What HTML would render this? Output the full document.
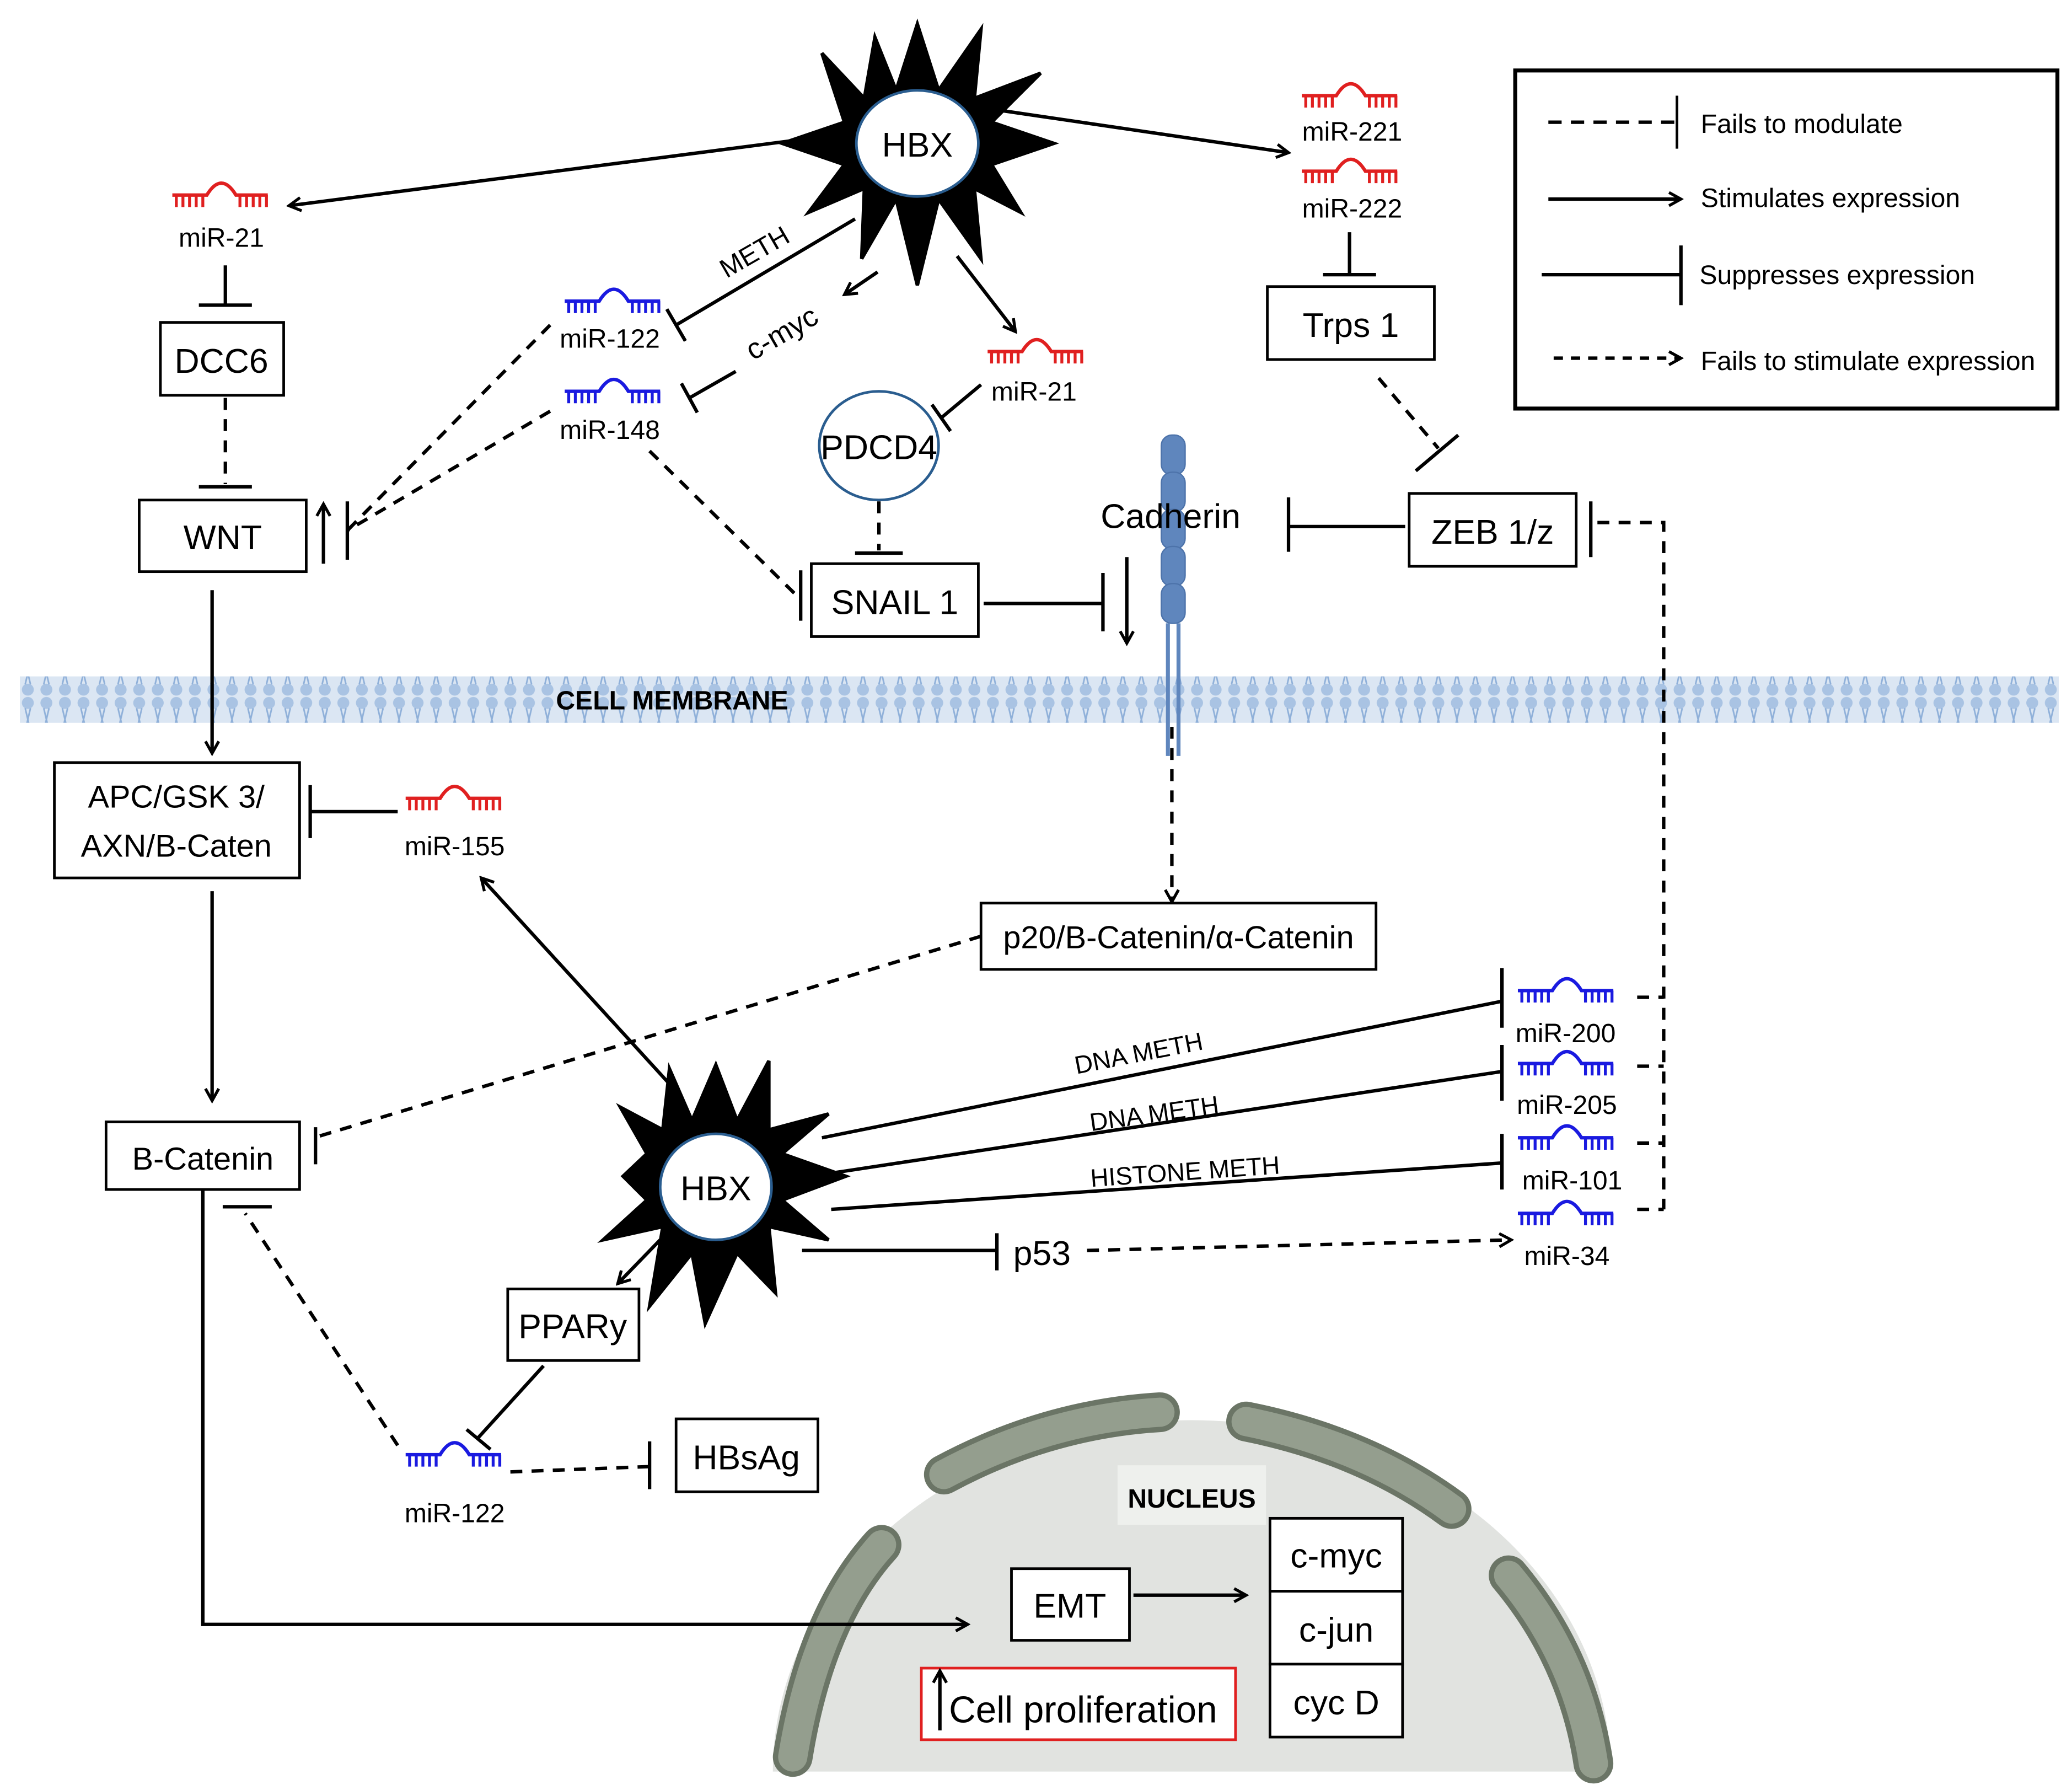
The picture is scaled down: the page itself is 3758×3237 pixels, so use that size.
<!DOCTYPE html>
<html><head><meta charset="utf-8"><style>html,body{margin:0;padding:0;background:#fff}svg{display:block}text{font-family:"Liberation Sans",sans-serif}</style></head>
<body>
<svg width="3758" height="3237" viewBox="0 0 1563 1346" xmlns="http://www.w3.org/2000/svg">
<defs>
<marker id="ar" markerWidth="12" markerHeight="12" refX="10" refY="6" orient="auto" markerUnits="userSpaceOnUse"><path d="M1,1 L10,6 L1,11" fill="none" stroke="#000" stroke-width="2.2"/></marker>
<pattern id="mem" width="14" height="35" patternUnits="userSpaceOnUse"><rect width="14" height="35" fill="#dbe6f3"/><circle cx="7" cy="5" r="4.5" fill="#a9c3e3"/><circle cx="7" cy="30" r="4.5" fill="#a9c3e3"/><path d="M5,9 L9,26 M9,9 L5,26" stroke="#8fb0d9" stroke-width="1.2"/></pattern>
<symbol id="mir" viewBox="0 0 72 24" overflow="visible"><path d="M0,12 H26 Q37,-6 48,12 H72" fill="none" stroke-width="2.6"/><path d="M3,12v9M8,12v9M13,12v9M18,12v9M23,12v9M51,12v9M56,12v9M61,12v9M66,12v9M71,12v9" stroke-width="2.2"/></symbol>
</defs>
<g fill="none" stroke="#000" stroke-width="2.6">
<!-- nucleus -->
<path d="M583,1336 A316,265 0 0 1 1215,1336 Z" fill="#e1e3e0" stroke="none"/>
<g stroke-linecap="round">
<g stroke="#6b7566" stroke-width="30"><path d="M598,1325 Q615,1220 665,1165"/><path d="M712,1112 Q790,1070 875,1065"/><path d="M940,1072 Q1030,1090 1095,1138"/><path d="M1138,1188 Q1190,1250 1202,1330"/></g>
<g stroke="#949e8e" stroke-width="22"><path d="M598,1325 Q615,1220 665,1165"/><path d="M712,1112 Q790,1070 875,1065"/><path d="M940,1072 Q1030,1090 1095,1138"/><path d="M1138,1188 Q1190,1250 1202,1330"/></g>
</g>
<rect x="843" y="1105" width="112" height="45" fill="#eef0ed" stroke="none"/>
<!-- membrane -->
<rect x="15" y="510" width="1538" height="35" fill="url(#mem)" stroke="none"/>
<!-- cadherin -->
<g fill="#5f86bd" stroke="#4d73aa" stroke-width="1"><rect x="876" y="328" width="18" height="30" rx="8"/><rect x="876" y="356" width="18" height="30" rx="8"/><rect x="876" y="384" width="18" height="30" rx="8"/><rect x="876" y="412" width="18" height="30" rx="8"/><rect x="876" y="440" width="18" height="30" rx="8"/></g>
<path d="M881,470 V570 M889,470 V570" stroke="#5f86bd" stroke-width="3"/>
<!-- stars -->
<polygon fill="#000" points="692,18 708,68 740,22 735,74 785,55 748,92 795,108 748,124 770,160 735,142 740,195 708,150 692,215 676,150 650,195 652,142 610,160 637,124 590,108 637,92 620,40 652,74 660,28 676,68" />
<ellipse cx="692" cy="108" rx="46" ry="40" fill="#fff" stroke="#2a5d8f" stroke-width="2"/>
<polygon fill="#000" points="540,803 556,845 580,800 580,852 625,840 590,870 638,887 590,905 625,935 580,925 585,975 556,945 532,998 522,945 490,985 500,925 455,935 488,905 470,887 488,870 468,835 500,852 505,806 522,845"/>
<ellipse cx="540" cy="895" rx="42" ry="40" fill="#fff" stroke="#2a5d8f" stroke-width="2"/>
<!-- miRNA icons -->
<g stroke="#e02020"><use href="#mir" x="130" y="135" width="72" height="24"/><use href="#mir" x="745" y="253" width="72" height="24"/><use href="#mir" x="982" y="60" width="72" height="24"/><use href="#mir" x="982" y="117" width="72" height="24"/><use href="#mir" x="306" y="590" width="72" height="24"/></g>
<g stroke="#1a1ae0"><use href="#mir" x="426" y="215" width="72" height="24"/><use href="#mir" x="426" y="283" width="72" height="24"/><use href="#mir" x="1145" y="735" width="72" height="24"/><use href="#mir" x="1145" y="790" width="72" height="24"/><use href="#mir" x="1145" y="846" width="72" height="24"/><use href="#mir" x="1145" y="903" width="72" height="24"/><use href="#mir" x="306" y="1085" width="72" height="24"/></g>
<!-- boxes -->
<g fill="#fff" stroke-width="2">
<rect x="121" y="243" width="93" height="55"/><rect x="105" y="377" width="126" height="54"/><rect x="612" y="425" width="126" height="55"/><rect x="956" y="216" width="126" height="55"/><rect x="1063" y="372" width="126" height="55"/><rect x="41" y="575" width="185" height="87"/><rect x="80" y="846" width="146" height="51"/><rect x="740" y="681" width="298" height="50"/><rect x="383" y="972" width="99" height="54"/><rect x="510" y="1070" width="107" height="55"/><rect x="763" y="1183" width="89" height="54"/><rect x="958" y="1145" width="100" height="55"/><rect x="958" y="1200" width="100" height="55"/><rect x="958" y="1255" width="100" height="55"/>
<rect x="695" y="1258" width="237" height="54" stroke="#e02020"/>
<ellipse cx="663" cy="336" rx="45" ry="41" stroke="#2a5d8f"/>
</g>
<rect x="1143" y="53" width="409" height="255" stroke-width="3"/>
<!-- solid arrows -->
<g marker-end="url(#ar)">
<path d="M605,105 L218,155"/><path d="M747,82 L972,115"/><path d="M662,205 L637,222"/><path d="M722,193 L766,250"/>
<path d="M160,445 V568"/><path d="M160,672 V830"/><path d="M512,825 L363,662"/><path d="M498,935 L466,968"/>
<path d="M153,897 V1225 H730"/><path d="M855,1203 H940"/><path d="M244,425 V380"/><path d="M850,420 V485"/><path d="M709,1305 V1260"/>
<path d="M1168,150 H1268"/>
</g>
<g stroke-dasharray="9,7" marker-end="url(#ar)"><path d="M884,548 V680"/><path d="M820,943 L1140,935"/><path d="M1172,270 H1268" stroke-dasharray="7,6"/></g>
<!-- solid inhibitions -->
<path d="M170,200 V230 M150,230 H190"/><path d="M645,165 L510,245 M503,233 L517,257"/><path d="M555,280 L520,300 M514,289 L526,311"/><path d="M740,290 L710,315 M703,305 L717,325"/>
<path d="M742,455 H832 M832,432 V476"/><path d="M1018,175 V207 M998,207 H1038"/><path d="M1060,397 H972 M972,375 V416"/>
<path d="M234,612 H300 M234,592 V632"/><path d="M620,858 L1133,755 M1133,730 V775"/><path d="M625,885 L1133,808 M1133,788 V830"/><path d="M627,912 L1133,877 M1133,855 V897"/>
<path d="M605,943 H752 M752,930 V958"/><path d="M410,1030 L360,1085 M352,1078 L370,1093"/><path d="M262,378 V422"/>
<path d="M1163,207 H1268 M1268,185 V230"/><path d="M1265,72 V112" stroke-width="2"/>
<path d="M150,367 H190"/><path d="M645,417 H681"/>
<!-- dashed -->
<g stroke-dasharray="9,7">
<path d="M170,300 V365" /><path d="M415,245 L262,400"/><path d="M415,310 L262,400"/><path d="M663,378 V415"/><path d="M490,340 L604,452"/><path d="M604,430 V468" stroke-dasharray="none"/>
<path d="M1040,285 L1085,338"/><path d="M1205,394 H1255 V912 M1235,752 H1255 M1235,804 H1255 M1235,862 H1255 M1235,912 H1255"/>
<path d="M740,706 L240,857"/><path d="M238,850 V878" stroke-dasharray="none"/><path d="M300,1090 L185,915"/><path d="M168,910 H205" stroke-dasharray="none"/>
<path d="M385,1110 L490,1106"/><path d="M490,1087 V1123" stroke-dasharray="none"/><path d="M1168,92 H1265" stroke-dasharray="10,7"/>
</g>
<path d="M1068,355 L1100,328"/><path d="M1200,378 V420"/>
</g>
<!-- text -->
<g font-size="20" text-anchor="middle" fill="#000">
<text x="167" y="186">miR-21</text><text x="460" y="262">miR-122</text><text x="460" y="331">miR-148</text><text x="780" y="302">miR-21</text><text x="1020" y="106">miR-221</text><text x="1020" y="164">miR-222</text><text x="343" y="645">miR-155</text>
<text x="1181" y="786">miR-200</text><text x="1182" y="840">miR-205</text><text x="1186" y="897">miR-101</text><text x="1182" y="954">miR-34</text><text x="343" y="1148">miR-122</text>
</g>
<g font-size="26" text-anchor="middle">
<text x="167" y="281">DCC6</text><text x="168" y="414">WNT</text><text x="663" y="346">PDCD4</text><text x="675" y="463">SNAIL 1</text><text x="1019" y="254">Trps 1</text><text x="1126" y="410">ZEB 1/z</text><text x="883" y="398">Cadherin</text>
<text x="692" y="118">HBX</text><text x="540" y="905">HBX</text>
<text x="133" y="609" font-size="24">APC/GSK 3/</text><text x="133" y="646" font-size="24">AXN/B-Caten</text>
<text x="153" y="882" font-size="24">B-Catenin</text><text x="889" y="715" font-size="24">p20/B-Catenin/α-Catenin</text>
<text x="432" y="1009">PPARy</text><text x="563" y="1108">HBsAg</text><text x="807" y="1220">EMT</text><text x="1008" y="1182">c-myc</text><text x="1008" y="1238">c-jun</text><text x="1008" y="1293">cyc D</text>
<text x="817" y="1299" font-size="28">Cell proliferation</text><text x="786" y="954">p53</text>
</g>
<g font-size="20">
<text x="1283" y="100">Fails to modulate</text><text x="1283" y="156">Stimulates expression</text><text x="1282" y="214">Suppresses expression</text><text x="1283" y="279">Fails to stimulate expression</text>
<text transform="translate(548,210) rotate(-30)">METH</text><text transform="translate(568,272) rotate(-30)" font-size="22">c-myc</text>
<text transform="translate(812,810) rotate(-11)" font-size="19">DNA METH</text><text transform="translate(823,853) rotate(-8)" font-size="19">DNA METH</text><text transform="translate(823,895) rotate(-4)" font-size="19">HISTONE METH</text>
</g>
<g font-size="20" font-weight="bold" text-anchor="middle"><text x="507" y="535">CELL MEMBRANE</text><text x="899" y="1137">NUCLEUS</text></g>
</svg>
</body></html>
